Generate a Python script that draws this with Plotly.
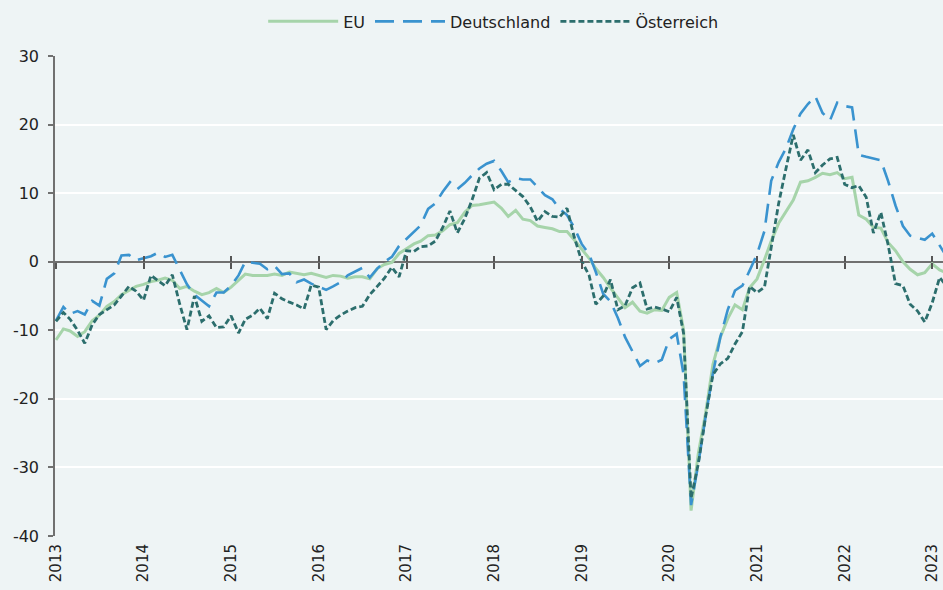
import pandas as pd
import plotly.graph_objects as go

dates = pd.date_range("2013-01-01", periods=123, freq="MS")

eu = [-11.4, -9.8, -10.1, -10.9, -10.2, -8.6, -7.8, -6.5, -5.8, -4.8, -4.2, -3.6,
      -3.3, -2.9, -2.7, -2.4, -2.7, -3.9, -3.6, -4.3, -4.8, -4.5, -3.9, -4.5,
      -3.7, -2.7, -1.8, -2.0, -2.0, -2.0, -1.8, -2.0, -1.5, -1.7, -1.9, -1.7,
      -2.0, -2.3, -2.0, -2.1, -2.4, -2.2, -2.2, -2.5, -1.0, -0.4, -0.1, 1.2,
      1.9, 2.6, 3.0, 3.8, 3.9, 4.5, 5.4, 5.7, 7.2, 8.2, 8.3, 8.5,
      8.7, 7.8, 6.6, 7.5, 6.2, 6.0, 5.2, 5.0, 4.8, 4.4, 4.4, 3.2,
      1.8, 0.5, -1.0, -2.3, -3.8, -5.2, -6.7, -5.9, -7.2, -7.5, -7.0, -7.1,
      -5.2, -4.5, -10.0, -36.3, -28.0, -22.0, -15.0, -11.0, -8.3, -6.3, -7.0, -3.8,
      -2.5, 0.3, 3.0, 5.6, 7.3, 9.0, 11.6, 11.8, 12.3, 12.9, 12.7, 13.0,
      12.1, 12.3, 6.8, 6.2, 5.0, 4.9, 2.8, 1.6, 0.0, -1.1, -1.9, -1.6,
      -0.3, -1.2, -1.6]

de = [-8.6, -6.6, -7.6, -7.2, -7.7, -5.7, -6.4, -2.5, -1.7, 0.9, 1.0, 0.2,
      0.5, 0.8, 1.3, 0.7, 1.0, -1.1, -3.3, -4.8, -5.6, -6.5, -4.5, -4.5,
      -3.5, -2.0, 0.0, -0.2, -0.3, -1.1, -0.6, -1.8, -1.7, -3.0, -2.6, -3.2,
      -3.6, -4.1, -3.6, -3.0, -2.0, -1.4, -0.9, -2.3, -1.0, 0.0, 0.7, 2.3,
      3.3, 4.3, 5.3, 7.7, 8.5, 10.2, 11.6, 10.6, 11.5, 12.6, 13.6, 14.3,
      14.7, 13.2, 11.6, 12.2, 12.0, 12.0, 10.8, 9.7, 9.1, 7.7, 6.8, 5.0,
      2.6, 1.1, -1.5, -4.7, -5.8, -8.2, -11.0, -13.0, -15.2, -14.4, -14.8, -14.3,
      -11.3, -10.5, -16.5, -35.5, -29.5, -22.5, -16.3, -11.0, -7.0, -4.2, -3.5, -1.3,
      1.1, 4.5, 11.8, 14.5, 16.5, 19.3, 21.6, 23.0, 24.1, 21.7, 20.6, 23.2,
      22.7, 22.5, 15.6, 15.3, 15.0, 14.8, 11.8, 8.2, 5.2, 3.8, 3.5, 3.2,
      4.1, 2.3, 0.8]

at = [-8.7, -7.4, -8.4, -10.0, -11.9, -9.2, -7.7, -7.0, -6.3, -5.0, -3.6, -4.3,
      -5.6, -2.0, -2.7, -3.5, -1.9, -6.2, -9.9, -5.0, -8.7, -7.9, -9.6, -9.5,
      -7.9, -10.4, -8.4, -7.8, -6.8, -8.3, -4.6, -5.4, -5.9, -6.3, -6.9, -3.4,
      -3.7, -9.9, -8.6, -7.8, -7.2, -6.7, -6.5, -4.8, -3.6, -2.4, -0.8, -2.2,
      1.6, 1.5, 2.2, 2.3, 3.0, 5.0, 7.4, 4.2, 6.3, 9.0, 12.2, 13.0,
      10.5, 11.3, 11.3, 10.4, 9.5, 8.0, 5.9, 7.3, 6.6, 6.5, 7.8, 3.6,
      0.1, -2.0, -6.2, -5.0, -2.6, -7.0, -6.4, -3.8, -3.1, -6.9, -6.6, -6.9,
      -7.3, -5.2, -10.5, -34.5, -29.5, -22.5, -16.5, -14.9, -14.1, -12.0, -10.2, -3.6,
      -4.5, -3.7, 2.0, 8.5, 13.5, 18.5, 14.8, 16.3, 13.0, 14.1, 15.0, 15.2,
      11.3, 10.8, 11.1, 9.4, 4.2, 7.2, 2.5, -3.2, -3.5, -6.2, -7.2, -8.8,
      -6.0, -2.3, -3.5]

names = ["EU", "Deutschland", "Österreich"]
y_tickvals = [-40, -30, -20, -10, 0, 10, 20, 30]
y_ticktext = ["-40", "-30", "-20", "-10", "0", "10", "20", "30"]

colors = ["#a6d4aa", "#3a93cf", "#2c6e6d"]
dashes = ["solid", "19px,9px", "6px,3px"]
widths = [3, 2.6, 2.8]

BG = "#eef4f5"
FONT = "DejaVu Sans"

fig = go.Figure()
for name, vals, c, d, w in zip(names, [eu, de, at], colors, dashes, widths):
    fig.add_trace(go.Scatter(x=dates, y=vals, mode="lines", name=name,
                             line=dict(color=c, dash=d, width=w)))

# helper (invisible) traces to activate the tick-only axes on the zero line
for ax in ["x2", "x3"]:
    fig.add_trace(go.Scatter(x=dates[:1], y=[None], xaxis=ax, showlegend=False,
                             hoverinfo="skip", mode="lines"))

xrange = ["2012-12-28", "2023-02-15"]
zero_pos = 40 / 70

fig.update_layout(
    width=943, height=590,
    paper_bgcolor=BG, plot_bgcolor=BG,
    margin=dict(l=55, r=0, t=56, b=54, autoexpand=False),
    font=dict(family=FONT, size=16, color="#222222"),
    showlegend=True,
    legend=dict(orientation="h", x=0.494, xanchor="center", y=1.072, yanchor="middle",
                bgcolor="rgba(0,0,0,0)", font=dict(size=16), itemwidth=70,
                tracegroupgap=0),
    xaxis=dict(type="date", range=xrange, dtick="M12", tick0="2013-01-01",
               tickformat="%Y", tickangle=-90, showgrid=False, zeroline=False,
               showline=False, ticks="", ticklabelstandoff=4, automargin=False,
               tickfont=dict(size=15)),
    xaxis2=dict(type="date", range=xrange, dtick="M12", tick0="2013-01-01",
                overlaying="x", anchor="free", position=zero_pos, side="bottom",
                showgrid=False, showline=False, zeroline=False, showticklabels=False,
                ticks="outside", ticklen=6, tickwidth=1.5, tickcolor="#555555",
                automargin=False),
    xaxis3=dict(type="date", range=xrange, dtick="M12", tick0="2013-01-01",
                overlaying="x", anchor="free", position=zero_pos, side="bottom",
                showgrid=False, showline=False, zeroline=False, showticklabels=False,
                ticks="inside", ticklen=6, tickwidth=1.5, tickcolor="#555555",
                automargin=False),
    yaxis=dict(range=[-40, 30], tickvals=y_tickvals, ticktext=y_ticktext,
               showgrid=True, gridcolor="white", gridwidth=2,
               zeroline=True, zerolinecolor="#707070", zerolinewidth=2,
               showline=True, linecolor="#707070", linewidth=1.5,
               ticks="outside", ticklen=5, tickcolor="#707070", tickwidth=1.5,
               ticklabelstandoff=6, automargin=False, tickfont=dict(size=16)),
)

fig.write_html("out.html", config={"displayModeBar": False},
               post_script="document.body.style.margin='0';"
                           "document.body.style.background='" + BG + "';")
